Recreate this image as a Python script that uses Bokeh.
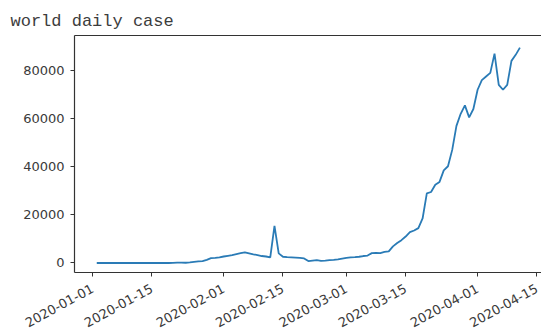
import pandas as pd
from bokeh.plotting import figure
from bokeh.models import (ColumnDataSource, FixedTicker, DatetimeTickFormatter,
                          LinearAxis, Range1d, NumeralTickFormatter)
from bokeh.embed import file_html
from bokeh.resources import INLINE

# Daily new cases worldwide, 2020-01-02 .. 2020-04-12
start_date = "2020-01-02"
daily_cases = [
    0, 17, 0, 15, 0, 0, 0, 0, 0, 0,
    0, 0, 0, 0, 0, 0, 0, 0, 78, 150,
    150, 100, 290, 490, 680, 810, 1300, 2000, 2100, 2300,
    2700, 3000, 3300, 3700, 4100, 4400, 4000, 3600, 3300, 2900,
    2700, 2300, 15400, 4000, 2600, 2400, 2300, 2200, 2100, 1900,
    800, 1000, 1200, 900, 1000, 1200, 1300, 1500, 1800, 2100,
    2300, 2400, 2600, 2900, 3100, 4100, 4200, 4100, 4600, 4800,
    6900, 8300, 9500, 11000, 12800, 13500, 14500, 18500, 28900, 29500,
    32500, 33700, 38500, 40200, 47000, 57000, 62000, 65500, 60500, 64000,
    72000, 76000, 77500, 79000, 87000, 74000, 72000, 74000, 84000, 86500,
    89500,
]
dates = pd.date_range(start_date, periods=len(daily_cases), freq="D")

x_tick_dates = ["2020-01-01", "2020-01-15", "2020-02-01", "2020-02-15",
                "2020-03-01", "2020-03-15", "2020-04-01", "2020-04-15"]
y_ticks = [0, 20000, 40000, 60000, 80000]

source = ColumnDataSource(dict(date=dates, cases=daily_cases))

origin = pd.Timestamp("2020-01-01")
day = pd.Timedelta(days=1)
x_start = origin - 4.26 * day
x_end = origin + 106.1 * day

p = figure(frame_width=467, frame_height=237, x_axis_type="datetime",
           x_range=Range1d(x_start, x_end), y_range=Range1d(-3950, 94540),
           output_backend="svg", toolbar_location=None,
           min_border_left=74, min_border_right=0, min_border_top=35,
           min_border_bottom=62, title="world daily case")

p.line("date", "cases", source=source, line_color="#2a7bb6", line_width=1.8)

p.title.text_font = "Liberation Mono"
p.title.text_font_size = "17px"
p.title.text_font_style = "normal"
p.title.text_color = "#3c3c3c"
p.title.align = "left"
p.title.offset = -64
p.title.standoff = 10

p.grid.visible = False
p.outline_line_color = None
p.background_fill_color = "white"
p.border_fill_color = "white"

tick_ms = [pd.Timestamp(d).value // 10**6 for d in x_tick_dates]
xa = p.xaxis[0]
xa.ticker = FixedTicker(ticks=tick_ms)
fmt = "%Y-%m-%d"
xa.formatter = DatetimeTickFormatter(days=fmt, months=fmt, years=fmt,
                                     hours=fmt, minutes=fmt, seconds=fmt,
                                     milliseconds=fmt, microseconds=fmt,
                                     hourmin=fmt, minsec=fmt)
xa.major_label_orientation = 0.50

ya = p.yaxis[0]
ya.ticker = FixedTicker(ticks=y_ticks)
ya.formatter = NumeralTickFormatter(format="0")

for ax in (xa, ya):
    ax.axis_line_color = "#333333"
    ax.axis_line_width = 1.2
    ax.major_tick_line_color = "#333333"
    ax.major_tick_out = 4
    ax.major_tick_in = 0
    ax.minor_tick_line_color = None
    ax.major_label_text_font = "DejaVu Sans"
    ax.major_label_text_font_size = "13px"
    ax.major_label_text_color = "#3a3a3a"
xa.major_label_standoff = 11
ya.major_label_standoff = 6

# top spine
top = LinearAxis(ticker=FixedTicker(ticks=[]), major_label_text_font_size="0px",
                 axis_line_color="#333333", axis_line_width=1.2,
                 minor_tick_line_color=None, major_tick_line_color=None)
p.add_layout(top, "above")

open("out.html", "w").write(file_html(p, INLINE))
